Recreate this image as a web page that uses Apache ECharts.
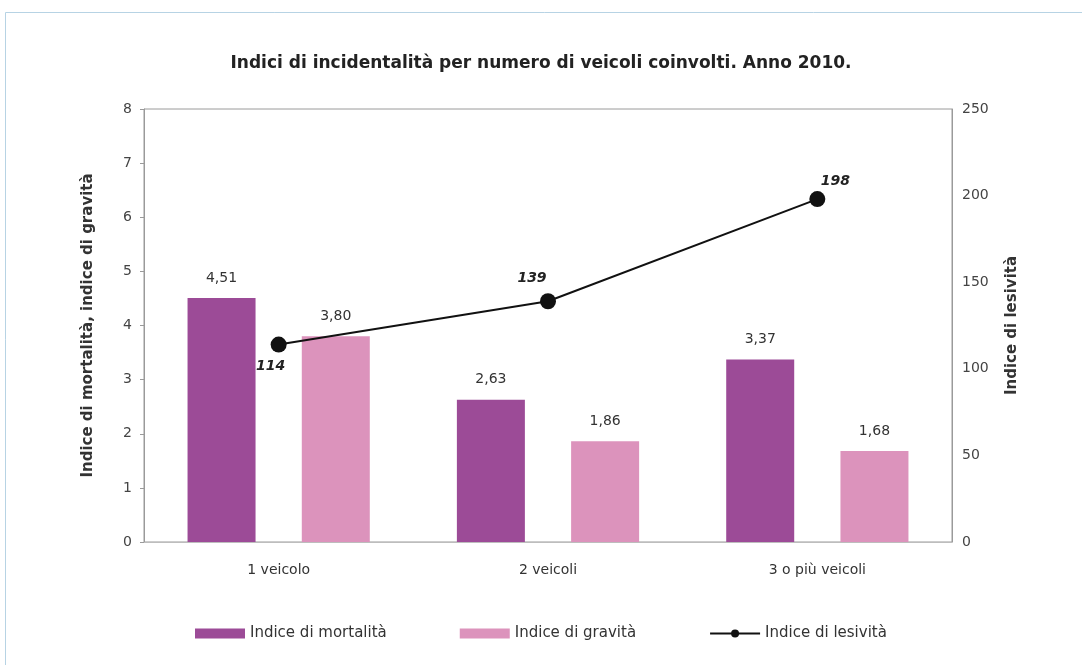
<!DOCTYPE html>
<html>
<head>
<meta charset="utf-8">
<style>
  html, body { margin: 0; padding: 0; background: #ffffff; }
  #chart { width: 1082px; height: 665px; }
</style>
<script src="https://cdn.jsdelivr.net/npm/echarts@6/dist/echarts.min.js"></script>
</head>
<body>
<div id="chart"></div>
<script>
// Road-accident indices by number of vehicles involved, year 2010
const categories = ['1 veicolo', '2 veicoli', '3 o più veicoli'];
const mortalita = [4.51, 2.63, 3.37];
const gravita = [3.80, 1.86, 1.68];
const lesivita = [114, 139, 198];
const leftTicks = [0, 1, 2, 3, 4, 5, 6, 7, 8];
const rightTicks = [0, 50, 100, 150, 200, 250];

const FONT = '"DejaVu Sans", "Liberation Sans", Arial, sans-serif';
const PURPLE = '#9c4b97';
const PINK = '#dc93bc';
const fmtComma = v => v.toFixed(2).replace('.', ',');

// per-point label placement for the lesività line
const lineLabelPlacement = [
  { position: 'bottom', distance: 7, offset: [-8, 0] },
  { position: 'top', distance: 8, offset: [-16, 0] },
  { position: 'top', distance: 3, offset: [18, 0] }
];

const chart = echarts.init(document.getElementById('chart'), null, { renderer: 'canvas' });

chart.setOption({
  backgroundColor: '#ffffff',
  animation: false,
  textStyle: { fontFamily: FONT },
  graphic: [{
    type: 'rect',
    shape: { x: 5.5, y: 12.5, width: 1200, height: 800 },
    style: { fill: 'none', stroke: '#b7d3e4', lineWidth: 1 },
    z: -10
  }],
  title: {
    text: 'Indici di incidentalità per numero di veicoli coinvolti. Anno 2010.',
    left: 'center',
    top: 50,
    textStyle: { fontFamily: FONT, fontSize: 17, fontWeight: 'bold', color: '#222' }
  },
  legend: {
    left: 190,
    top: 621,
    itemWidth: 50,
    itemHeight: 10,
    itemGap: 73,
    textStyle: { fontFamily: FONT, fontSize: 15, color: '#333' },
    data: [
      { name: 'Indice di mortalità', icon: 'rect' },
      { name: 'Indice di gravità', icon: 'rect' },
      { name: 'Indice di lesività' }
    ]
  },
  grid: {
    left: 144, right: 130, top: 109, bottom: 123,
    show: true, borderColor: '#9a9a9a', borderWidth: 1
  },
  xAxis: {
    type: 'category',
    data: categories,
    axisLine: { lineStyle: { color: '#bdbdbd' } },
    axisTick: { show: false },
    axisLabel: { margin: 21, fontFamily: FONT, fontSize: 14, color: '#333' }
  },
  yAxis: [{
    type: 'value',
    min: leftTicks[0],
    max: leftTicks[leftTicks.length - 1],
    interval: 1,
    name: 'Indice di mortalità, indice di gravità',
    nameLocation: 'middle',
    nameGap: 48,
    nameTextStyle: { fontFamily: FONT, fontSize: 15, fontWeight: 'bold', color: '#333' },
    axisLine: { show: true, lineStyle: { color: '#9a9a9a' } },
    axisTick: { show: true, length: 4, lineStyle: { color: '#9a9a9a' } },
    axisLabel: { margin: 12, fontFamily: FONT, fontSize: 14, color: '#444' },
    splitLine: { show: false }
  }, {
    type: 'value',
    min: rightTicks[0],
    max: rightTicks[rightTicks.length - 1],
    interval: 50,
    name: 'Indice di lesività',
    nameLocation: 'middle',
    nameGap: 53,
    nameRotate: 90,
    nameTextStyle: { fontFamily: FONT, fontSize: 15, fontWeight: 'bold', color: '#333' },
    axisLine: { show: true, lineStyle: { color: '#9a9a9a' } },
    axisTick: { show: false },
    axisLabel: { margin: 10, fontFamily: FONT, fontSize: 14, color: '#444' },
    splitLine: { show: false }
  }],
  series: [{
    name: 'Indice di mortalità',
    type: 'bar',
    data: mortalita,
    barWidth: 68,
    barGap: '68%',
    itemStyle: { color: PURPLE },
    label: {
      show: true, position: 'top', distance: 13,
      fontFamily: FONT, fontSize: 14, color: '#333',
      formatter: p => fmtComma(p.value)
    }
  }, {
    name: 'Indice di gravità',
    type: 'bar',
    data: gravita,
    barWidth: 68,
    itemStyle: { color: PINK },
    label: {
      show: true, position: 'top', distance: 13,
      fontFamily: FONT, fontSize: 14, color: '#333',
      formatter: p => fmtComma(p.value)
    }
  }, {
    name: 'Indice di lesività',
    type: 'line',
    yAxisIndex: 1,
    data: lesivita.map((v, i) => ({ value: v, label: lineLabelPlacement[i] })),
    symbol: 'circle',
    symbolSize: 16,
    lineStyle: { color: '#111', width: 2 },
    itemStyle: { color: '#111' },
    label: {
      show: true,
      fontFamily: FONT, fontSize: 14, fontWeight: 'bold', fontStyle: 'italic', color: '#222'
    },
    z: 5
  }]
});
</script>
</body>
</html>
